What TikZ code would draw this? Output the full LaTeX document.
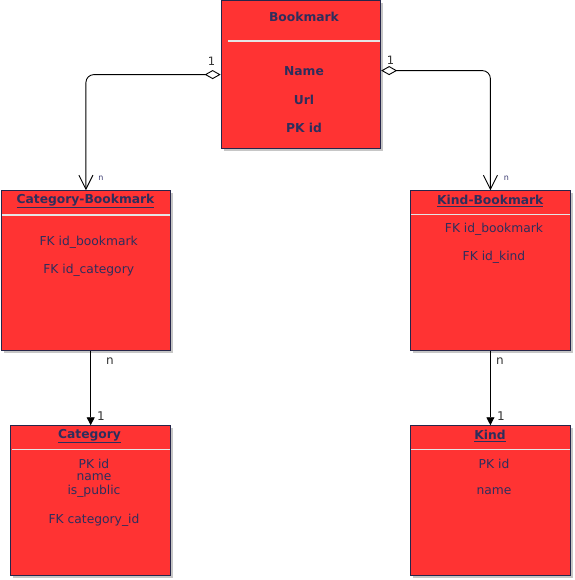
\documentclass[tikz,border=0pt]{standalone}
\usepackage{fontspec}
\setmainfont{DejaVu Sans}
\usetikzlibrary{arrows.meta,shadows}
\definecolor{boxred}{HTML}{FF3333}
\definecolor{boxline}{HTML}{26264A}
\definecolor{txt}{HTML}{2E2E5C}
\definecolor{lbl}{HTML}{333333}
\definecolor{lbln}{HTML}{3A3A70}
\tikzset{
  ent/.style={draw=boxline, fill=boxred, line width=1pt, inner sep=0pt,
    drop shadow={shadow xshift=2.5pt, shadow yshift=-2.5pt, fill=gray, opacity=0.45}},
  sep/.style={draw=white!80!gray, line width=1.6pt},
  ttl/.style={font=\fontsize{12.3}{14}\selectfont\bfseries, text=txt, inner sep=0pt},
  fld/.style={font=\fontsize{12.3}{14}\selectfont, text=txt, inner sep=0pt},
  bfld/.style={font=\fontsize{12.3}{14}\selectfont\bfseries, text=txt, inner sep=0pt},
  conn/.style={draw=black, line width=0.9pt},
  lab/.style={font=\fontsize{11.5}{13}\selectfont, text=lbl, inner sep=0pt},
  labs/.style={font=\fontsize{8}{9}\selectfont, text=lbln, inner sep=0pt},
  labb/.style={font=\fontsize{12}{13}\selectfont, text=lbl, inner sep=0pt},
}
\begin{document}
\begin{tikzpicture}[x=1pt,y=-1pt]
\useasboundingbox (0,0) rectangle (574,580);
% boxes
\node[ent, minimum width=159.5pt, minimum height=147.5pt] (bm) at (300.9,74.6) {};
\node[ent, minimum width=169.5pt, minimum height=160pt] (cb) at (85.9,270.7) {};
\node[ent, minimum width=160.5pt, minimum height=160pt] (kb) at (490.4,270.7) {};
\node[ent, minimum width=160pt, minimum height=149.3pt] (ca) at (90.7,500.4) {};
\node[ent, minimum width=160.5pt, minimum height=149.3pt] (ki) at (490.4,500.4) {};
% separators
\draw[sep] (228,41) -- (379.8,41);
\draw[sep] (1.8,215) -- (169.8,215);
\draw[sep] (411,214.5) -- (569.8,214.5);
\draw[sep] (11.5,449.5) -- (169.8,449.5);
\draw[sep] (411,449.5) -- (569.8,449.5);
% Bookmark
\node[ttl] (bmt) at (304,17) {Bookmark};
\node[bfld] (bm1) at (304,71.5) {Name};
\node[bfld] (bm2) at (304,99.5) {Url};
\node[bfld] (bm3) at (304,127.5) {PK id};
% Category-Bookmark
\node[ttl] (cbt) at (85.5,201) {\underline{Category-Bookmark}};
\node[fld] (cb1) at (88.7,242.5) {FK id\_bookmark};
\node[fld] (cb2) at (88.7,270.5) {FK id\_category};
% Kind-Bookmark
\node[ttl] (kbt) at (490.3,201) {\underline{Kind-Bookmark}};
\node[fld] (kb1) at (494,229) {FK id\_bookmark};
\node[fld] (kb2) at (494,257) {FK id\_kind};
% Category
\node[ttl] (cat) at (89.5,436) {\underline{Category}};
\node[fld] (ca1) at (94,463.5) {PK id};
\node[fld] (ca2) at (94,477.5) {name};
\node[fld] (ca3) at (94,491.5) {is\_public};
\node[fld] (ca4) at (94,520) {FK category\_id};
% Kind
\node[ttl] (kit) at (490,436) {\underline{Kind}};
\node[fld] (ki1) at (494,463.5) {PK id};
\node[fld] (ki2) at (494,491.5) {name};
% connectors
\draw[conn, rounded corners=8pt, {Diamond[open,length=16pt,width=9pt]}-{Straight Barb[length=14pt,width=14pt]}]
  (bm.west) -| (cb.north);
\draw[conn, rounded corners=8pt, {Diamond[open,length=16pt,width=9pt]}-{Straight Barb[length=14pt,width=14pt]}]
  ([yshift=4pt]bm.east) -| (kb.north);
\draw[conn, -{Triangle[length=8pt,width=8pt]}] ([xshift=4.8pt]cb.south) -- ([xshift=4.8pt]cb.south |- ca.north);
\draw[conn, -{Triangle[length=8pt,width=8pt]}] (kb.south) -- (ki.north);
% labels
\node[lab] (l1) at (211.5,61) {1};
\node[lab] (l2) at (390.5,60.5) {1};
\node[labs] (l3) at (101,178) {n};
\node[labs] (l4) at (506.3,178) {n};
\node[labb] (l5) at (110,361) {n};
\node[labb] (l6) at (101,416) {1};
\node[labb] (l7) at (500,361) {n};
\node[labb] (l8) at (501,416) {1};
\end{tikzpicture}
\end{document}
